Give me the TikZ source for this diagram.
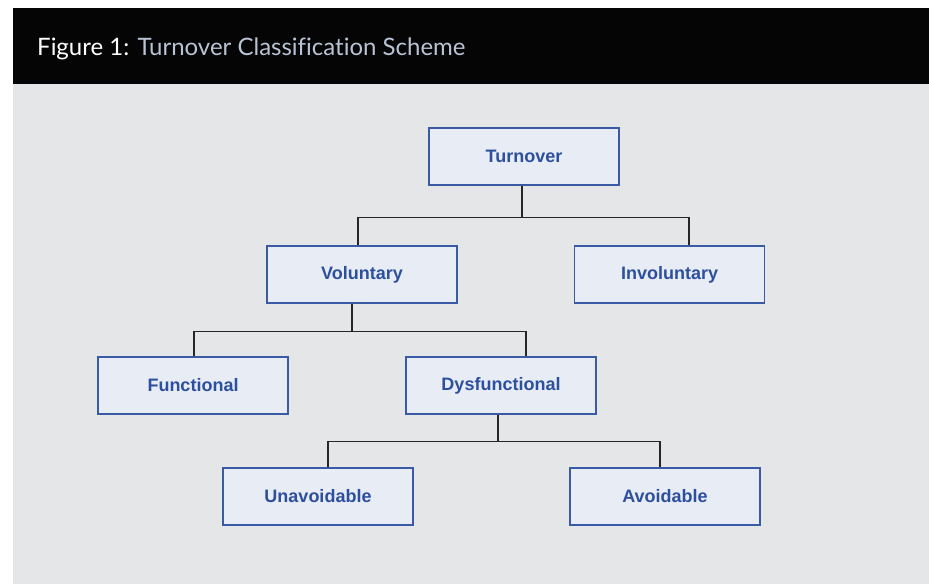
\documentclass[tikz,border=0pt]{standalone}
\usepackage{fontspec}
\setmainfont{Liberation Sans}
\newfontfamily\titlefont[Ligatures=NoCommon]{Lato}
\definecolor{panelgray}{HTML}{E5E6E8}
\definecolor{barblack}{HTML}{050505}
\definecolor{titleblue}{HTML}{B9C3D6}
\definecolor{boxfill}{HTML}{E8ECF5}
\definecolor{boxline}{HTML}{3B5AA6}
\definecolor{boxtext}{HTML}{2C4F9E}
\tikzset{
  class/.style={draw=boxline, fill=boxfill, line width=1.3pt, minimum width=190pt,
    minimum height=57pt, inner sep=0pt, text=boxtext, font=\fontsize{18}{20}\selectfont\bfseries},
  link/.style={draw=black!85, line width=1.4pt}
}
\begin{document}
\begin{tikzpicture}[x=1pt, y=1pt]
        \useasboundingbox (0,0) rectangle (929,-584);
        \fill [white] (0,0) rectangle (929,-584);
        \fill [barblack] (13,-8) rectangle (929,-84);
        \fill [panelgray] (13,-84) rectangle (929,-584);
        \node [anchor=west, inner sep=0pt, font=\titlefont\fontsize{24}{28}\selectfont]
          (title) at (37,-49) {\textcolor{white}{Figure 1:} \textcolor{titleblue}{Turnover Classification Scheme}};

        % classification boxes
        \node [class] (turnover) at (524,-156.5) {Turnover};
        \node [class] (voluntary) at (362,-274.5) {Voluntary};
        \node [class] (involuntary) at (669.5,-274.5) {Involuntary};
        \node [class] (functional) at (193,-385.5) {Functional};
        \node [class] (dysfunctional) at (501,-385.5) {Dysfunctional};
        \node [class] (unavoidable) at (318,-496.5) {Unavoidable};
        \node [class] (avoidable) at (665,-496.5) {Avoidable};

        % tree connectors
        \draw [link] ([xshift=-2pt]turnover.south) -- ++(0,-32) coordinate (split1);
        \draw [link] ([xshift=-4pt]voluntary.north) |- (split1)
          -| ([xshift=19.5pt]involuntary.north);
        \draw [link] ([xshift=-10pt]voluntary.south) -- ++(0,-28) coordinate (split2);
        \draw [link] ([xshift=1pt]functional.north) |- (split2)
          -| ([xshift=25pt]dysfunctional.north);
        \draw [link] ([xshift=-3pt]dysfunctional.south) -- ++(0,-27) coordinate (split3);
        \draw [link] ([xshift=10pt]unavoidable.north) |- (split3)
          -| ([xshift=-5pt]avoidable.north);
\end{tikzpicture}
\end{document}
